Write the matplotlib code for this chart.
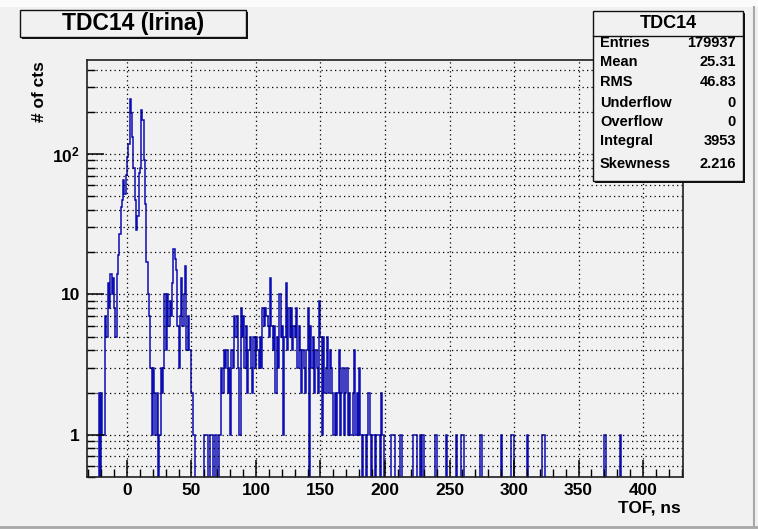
import numpy as np
import matplotlib
matplotlib.use("Agg")
import matplotlib.pyplot as plt
from matplotlib.patches import Rectangle
from matplotlib.ticker import MultipleLocator, LogLocator, FixedFormatter, FixedLocator, NullFormatter

plt.rcParams['font.family'] = ['Liberation Sans', 'DejaVu Sans']
plt.rcParams['font.weight'] = 'bold'
plt.rcParams['mathtext.fontset'] = 'custom'
plt.rcParams['mathtext.rm'] = 'Liberation Sans:bold'
plt.rcParams['mathtext.bf'] = 'Liberation Sans:bold'
plt.rcParams['mathtext.it'] = 'Liberation Sans:bold'

# ---------------- data (1 ns bins) ----------------
x_min, x_max = -30, 430
seg_a_start = -22
seg_a_counts = [2, 0, 2, 1, 1, 7, 5, 12, 8, 14,
                10, 13, 8, 5, 14, 19, 27, 42, 47, 65,
                52, 71, 95, 118, 246, 196, 133, 80, 47, 29,
                36, 73, 80, 207, 175, 90, 44, 17, 10, 7,
                3, 1, 3, 2, 1, 2, 0, 1, 3, 2,
                3, 10, 4, 10, 6, 9, 7, 12, 21, 18,
                15, 6, 3, 7, 13, 6, 10, 16, 4, 7,
                4, 4, 2, 1, 1, 0, 0, 0, 0, 0,
                0, 0, 1, 1, 1, 0, 1, 1, 1, 0,
                1, 1, 0, 1, 1, 3, 2, 4, 3, 4,
                2, 3, 1, 4, 3]
seg_b_start = 83
seg_b_counts = [7, 5, 7, 3, 1, 8, 5, 7, 3, 6,
                2, 4, 5, 3, 2, 5, 3, 5, 4, 3,
                5, 3, 8, 6, 8, 7, 6, 5, 13, 6,
                4, 6, 2, 5, 3, 10, 5, 6, 1, 5,
                12, 4, 8, 5, 8, 4, 6, 5, 8, 3,
                6, 4, 2, 4, 3, 2, 4, 8, 0, 6,
                3, 5, 2, 4, 3, 2, 9, 5, 1, 5,
                2, 3, 5, 2, 4, 3, 2, 1, 2, 1,
                2, 4, 1, 2, 3, 1, 2, 3, 1, 2,
                1, 1, 2, 4, 1, 2, 1, 3, 1, 0,
                1, 1, 0, 1, 2, 1, 0, 1, 1, 0,
                1, 1, 1, 0, 2, 1, 0, 0]
tail_single_bins = [205, 206, 207, 212, 222, 223, 224, 227, 229, 239, 247,
                    255, 259, 260, 274, 290, 298, 299, 310, 322, 323, 370, 382]

stats_labels = ["Entries", "Mean", "RMS", "Underflow", "Overflow", "Integral", "Skewness"]
stats_values = ["179937", "25.31", "46.83", "0", "0", "3953", "2.216"]
y_tick_vals = [1, 10, 100]
y_tick_labels = ["1", "10", r"$10^{2}$"]

# --------------- build histogram -----------------
edges = np.arange(x_min, x_max + 1)
counts = np.zeros(len(edges) - 1)
ia = seg_a_start - x_min
counts[ia:ia + len(seg_a_counts)] = seg_a_counts
ib = seg_b_start - x_min
counts[ib:ib + len(seg_b_counts)] = seg_b_counts
for b in tail_single_bins:
    counts[b - x_min] = 1
plot_counts = np.where(counts > 0, counts, 1e-3)

W, H = 758, 529
BG = '#f1f1f1'
fig = plt.figure(figsize=(W / 100, H / 100), dpi=100, facecolor=BG)

def fx(px):
    return px / W

def fy(py):
    return 1 - py / H

L, R, T, B = 87, 683, 60, 477
ax = fig.add_axes([fx(L), fy(B), fx(R) - fx(L), fy(T) - fy(B)])
ax.set_facecolor(BG)

ax.stairs(plot_counts, edges, baseline=None, color='#0c0cb4', lw=1.1)

ax.set_yscale('log')
ax.set_xlim(x_min - 1, x_max + 1)
ax.set_ylim(0.5, 468)

ax.xaxis.set_major_locator(MultipleLocator(50))
ax.xaxis.set_minor_locator(MultipleLocator(10))
ax.yaxis.set_major_locator(FixedLocator(y_tick_vals))
ax.yaxis.set_major_formatter(FixedFormatter(y_tick_labels))
ax.yaxis.set_minor_locator(LogLocator(base=10, subs=np.arange(2, 10)))
ax.yaxis.set_minor_formatter(NullFormatter())

ax.tick_params(which='both', direction='in', top=False, right=False, labelsize=12.5)
ax.tick_params(which='major', length=12, width=1.1)
ax.tick_params(which='minor', length=6, width=1.0)
ax.tick_params(axis='x', pad=4)
ax.tick_params(axis='y', pad=5)
for lab in ax.get_xticklabels() + ax.get_yticklabels():
    lab.set_fontweight('bold')

dots = (0, (1, 2.6))
ax.grid(which='major', axis='x', color='k', lw=0.9, ls=dots)
ax.grid(which='both', axis='y', color='k', lw=0.9, ls=dots)

for s in ['left', 'bottom', 'top', 'right']:
    ax.spines[s].set_linewidth(1.2)
    ax.spines[s].set_color('#202020')

ax.set_xticks(np.arange(0, 401, 50))
# axis titles (ROOT style, aligned at axis end)
fig.text(fx(681), fy(508), "TOF, ns", ha='right', va='center', fontsize=12.5, fontweight='bold')
fig.text(fx(40), fy(61), "# of cts", ha='center', va='top', rotation=90, fontsize=12.5, fontweight='bold')

# title box with shadow
def pave(x0, y0, x1, y1, shadow=2):
    fig.patches.append(Rectangle((fx(x0 + shadow), fy(y1 + shadow)), fx(x1) - fx(x0), fy(y0) - fy(y1),
                                 transform=fig.transFigure, facecolor='#111111', edgecolor='none', zorder=5))
    fig.patches.append(Rectangle((fx(x0), fy(y1)), fx(x1) - fx(x0), fy(y0) - fy(y1),
                                 transform=fig.transFigure, facecolor=BG, edgecolor='#111111', lw=1.0, zorder=6))

pave(20, 10, 246, 37)
fig.text(fx(133), fy(23.5), "TDC14 (Irina)", ha='center', va='center', fontsize=16.5,
         fontweight='bold', zorder=7)

# stats box
sx0, sy0, sx1, sy1 = 593, 11, 743, 181
pave(sx0, sy0, sx1, sy1)
fig.lines.append(plt.Line2D([fx(sx0), fx(sx1)], [fy(36), fy(36)], transform=fig.transFigure,
                            color='#111111', lw=1.0, zorder=7))
fig.text(fx((sx0 + sx1) / 2), fy(23.5), "TDC14", ha='center', va='center', fontsize=13,
         fontweight='bold', zorder=7)
row_baseline = [47, 66.2, 85.5, 107.2, 126.2, 145.2, 167.8]
for lab, val, yy in zip(stats_labels, stats_values, row_baseline):
    fig.text(fx(600), fy(yy), lab, ha='left', va='baseline', fontsize=10.5, fontweight='bold', zorder=7)
    fig.text(fx(736), fy(yy), val, ha='right', va='baseline', fontsize=10.5, fontweight='bold', zorder=7)

# canvas frame details
fig.patches.append(Rectangle((0, fy(7)), 1, 7 / H, transform=fig.transFigure,
                             facecolor='#fbfbfb', edgecolor='none', zorder=0))
fig.lines.append(plt.Line2D([0, 1], [fy(527), fy(527)], transform=fig.transFigure,
                            color='#a8a8a8', lw=2, zorder=1))
fig.lines.append(plt.Line2D([fx(754), fx(754)], [fy(7), fy(527)], transform=fig.transFigure,
                            color='#a8a8a8', lw=1.5, zorder=1))

fig.savefig("out.png", dpi=100, facecolor=BG)
